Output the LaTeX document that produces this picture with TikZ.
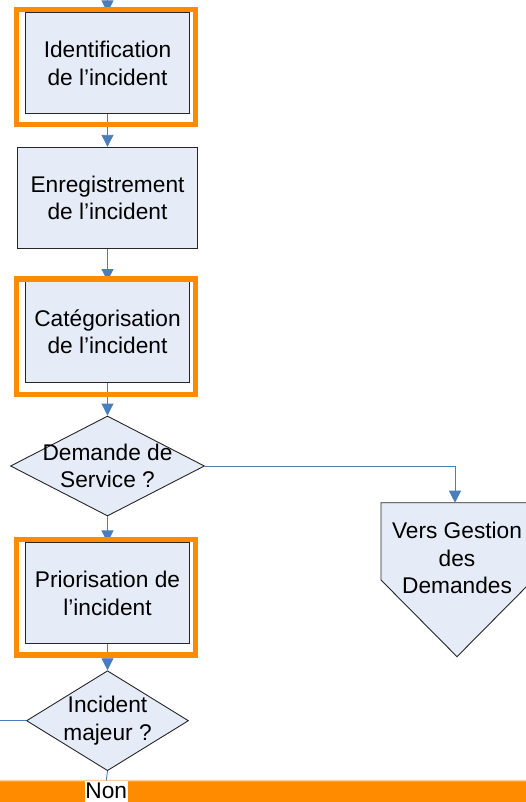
\documentclass[tikz,border=0pt]{standalone}
\usepackage{fontspec}
\setmainfont{Liberation Sans}
\usetikzlibrary{arrows.meta,shapes.geometric}
\definecolor{IncidentOrange}{HTML}{FF8C00}
\definecolor{BoxFill}{HTML}{E6ECF7}
\definecolor{FlowBlue}{HTML}{4A7EBB}
\tikzset{
  procbox/.style={draw=black!85, fill=BoxFill, line width=0.9, align=center, inner sep=0, minimum height=101},
  decision/.style={diamond, draw=black!85, fill=BoxFill, line width=0.9, inner sep=0},
  orangeframe/.style={draw=IncidentOrange, line width=5.3, minimum width=178.7, minimum height=115.3, inner sep=0},
  flow/.style={draw=FlowBlue, line width=0.9, -{Triangle[width=12pt,length=12pt]}},
  plainflow/.style={draw=FlowBlue, line width=0.9}
}
\begin{document}
\begin{tikzpicture}[x=1pt,y=-1pt,font=\fontsize{22.7}{27.5}\selectfont]
        \clip (0,0) rectangle (526,802);
        \coordinate (entree) at (107.5,0);
        \coordinate (sortie) at (0,720.7);
        \coordinate (vgtop) at (455,502.7);
        \node[procbox, minimum width=164.3] (ident) at (107.5,63.4) {Identification\\de l’incident};
        \node[procbox, minimum width=180.4] (enreg) at (107.5,197.8) {Enregistrement\\de l’incident};
        \node[procbox, minimum width=164.3] (categ) at (107.5,332) {Catégorisation\\de l’incident};
        \node[decision, minimum width=194, minimum height=100, label={[align=center]center:Demande de\\Service ?}] (demande) at (107.5,466) {};
        \node[procbox, minimum width=164.3] (prior) at (107.5,593.4) {Priorisation de\\l’incident};
        \node[decision, minimum width=162, minimum height=100, label={[align=center]center:Incident\\majeur ?}] (majeur) at (107.5,720.7) {};
        \draw[draw=black!85, fill=BoxFill, line width=0.9] (381,502.7) -- (533,502.7) -- (533,580) -- (457,656.7) -- (381,580) -- cycle;
        \node[align=center] (versgestion) at (457,558) {Vers Gestion\\des\\Demandes};
        \draw[flow] (entree) -- (ident.north);
        \draw[flow] (ident.south) -- (enreg.north);
        \draw[flow] (enreg.south) -- (categ.north);
        \draw[flow] (categ.south) -- (demande.north);
        \draw[flow] (demande.east) -| (vgtop);
        \draw[flow] (demande.south) -- (prior.north);
        \draw[flow] (prior.south) -- (majeur.north);
        \draw[plainflow] (majeur.west) -- (sortie);
        \node[orangeframe] (identframe) at (106,67) {};
        \node[orangeframe] (categframe) at (106,336.6) {};
        \node[orangeframe] (priorframe) at (106,597.2) {};
        \fill[IncidentOrange] (0,781.5) rectangle (526,802);
        \shade[top color=white, bottom color=IncidentOrange] (0,778.8) rectangle (526,781.6);
        \node[fill=white, inner xsep=0.6, inner ysep=0, anchor=base, text height=17.5, text depth=5] (non) at (106.3,798) {Non};
        \draw[plainflow] (majeur.south) -- (non.north);
    \end{tikzpicture}
\end{document}
